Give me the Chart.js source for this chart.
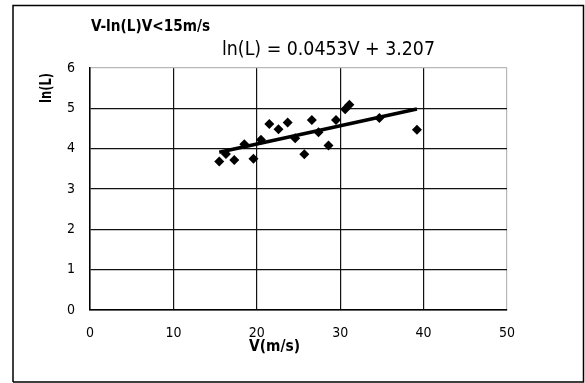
<!DOCTYPE html>
<html>
<head>
<meta charset="utf-8">
<script src="https://cdn.jsdelivr.net/npm/chart.js@4.4.1/dist/chart.umd.min.js"></script>
<style>
  html, body { margin: 0; padding: 0; background: #fff; }
  #wrap { position: relative; width: 585px; height: 383px; }
</style>
</head>
<body>
<div id="wrap"><canvas id="chart"></canvas></div>
<script>
// wind speed (m/s) and ln(L) for each observation
const speed = [15.5, 16.3, 17.3, 18.5, 19.6, 20.5, 21.5, 22.6, 23.7, 24.6, 25.7, 26.6, 27.4, 28.6, 29.5, 30.6, 31.1, 34.7, 39.2];
const lnL = [3.68, 3.87, 3.72, 4.11, 3.75, 4.22, 4.61, 4.48, 4.65, 4.26, 3.86, 4.71, 4.41, 4.08, 4.71, 4.98, 5.09, 4.76, 4.47];

// linear fit ln(L) = a*V + b
const slope = 0.0453;
const intercept = 3.207;

const xTicks = [0, 10, 20, 30, 40, 50];
const yTicks = [0, 1, 2, 3, 4, 5, 6];

const chartTitle = 'V-ln(L)V<15m/s';
const xTitle = 'V(m/s)';
const yTitle = 'ln(L)';
const equation = 'ln(L) = ' + slope + 'V + ' + intercept.toFixed(3);

const FONT = "'Liberation Sans Narrow', 'DejaVu Sans Condensed', 'Liberation Sans', sans-serif";

const points = speed.map((v, i) => ({ x: v, y: lnL[i] }));
const vMin = Math.min(...speed);
const vMax = Math.max(...speed);
const fitLine = [vMin, vMax].map(v => ({ x: v, y: slope * v + intercept }));

// draw text squeezed/stretched to a given width
function fitText(ctx, text, x, y, w, font, rot) {
  ctx.save();
  ctx.font = font;
  ctx.fillStyle = '#000';
  ctx.textBaseline = 'middle';
  ctx.textAlign = 'left';
  const m = ctx.measureText(text).width;
  ctx.translate(x, y);
  if (rot) ctx.rotate(rot);
  ctx.scale(w / m, 1);
  ctx.fillText(text, 0, 0);
  ctx.restore();
}

const decor = {
  id: 'decor',
  beforeDraw(chart) {
    const ctx = chart.ctx;
    ctx.save();
    ctx.fillStyle = '#fff';
    ctx.fillRect(0, 0, chart.width, chart.height);
    ctx.strokeStyle = '#000';
    ctx.lineWidth = 1.5;
    ctx.beginPath();
    ctx.moveTo(13, 382);
    ctx.lineTo(13, 5.5);
    ctx.lineTo(583.5, 5.5);
    ctx.lineTo(583.5, 382);
    ctx.lineTo(13, 382);
    ctx.stroke();
    ctx.restore();
  },
  afterDraw(chart) {
    const ctx = chart.ctx;
    fitText(ctx, chartTitle, 91, 27, 119, '600 15px ' + FONT);
    fitText(ctx, equation, 222, 50, 213, '19px ' + FONT);
    fitText(ctx, xTitle, 249, 347, 51, '600 15px ' + FONT);
    // rotated y title, reading bottom to top
    fitText(ctx, yTitle, 47, 103, 30, '600 15px ' + FONT, -Math.PI / 2);
  }
};

// top and right edges of the plot are faint
const edgeColor = (ctx, max) => (ctx.tick && ctx.tick.value === max ? '#b8b8b8' : '#111');

new Chart(document.getElementById('chart'), {
  data: {
    datasets: [
      {
        type: 'scatter',
        data: points,
        pointStyle: 'rectRot',
        pointRadius: 5,
        pointHoverRadius: 5,
        backgroundColor: '#000',
        borderColor: '#000',
        borderWidth: 0,
        order: 2
      },
      {
        type: 'line',
        data: fitLine,
        borderColor: '#000',
        borderWidth: 3.5,
        pointRadius: 0,
        fill: false,
        order: 1
      }
    ]
  },
  options: {
    responsive: true,
    maintainAspectRatio: false,
    animation: false,
    events: [],
    layout: { padding: { left: 0, top: 68, right: 78, bottom: 0 } },
    plugins: {
      legend: { display: false },
      tooltip: { enabled: false },
      title: { display: false }
    },
    scales: {
      x: {
        type: 'linear',
        min: xTicks[0],
        max: xTicks[xTicks.length - 1],
        afterBuildTicks: s => { s.ticks = xTicks.map(v => ({ value: v })); },
        afterFit: s => { s.height = 73; },
        ticks: { color: '#000', padding: 15, maxRotation: 0, font: { family: FONT, size: 14 } },
        grid: { color: c => edgeColor(c, 50), lineWidth: 1.2, drawTicks: false },
        border: { color: '#000', width: 1.5 }
      },
      y: {
        type: 'linear',
        min: yTicks[0],
        max: yTicks[yTicks.length - 1],
        afterBuildTicks: s => { s.ticks = yTicks.map(v => ({ value: v })); },
        afterFit: s => { s.width = 90; },
        ticks: { color: '#000', padding: 15, font: { family: FONT, size: 14 } },
        grid: { color: c => edgeColor(c, 6), lineWidth: 1.2, drawTicks: false },
        border: { color: '#000', width: 1.5 }
      }
    }
  },
  plugins: [decor]
});
</script>
</body>
</html>
